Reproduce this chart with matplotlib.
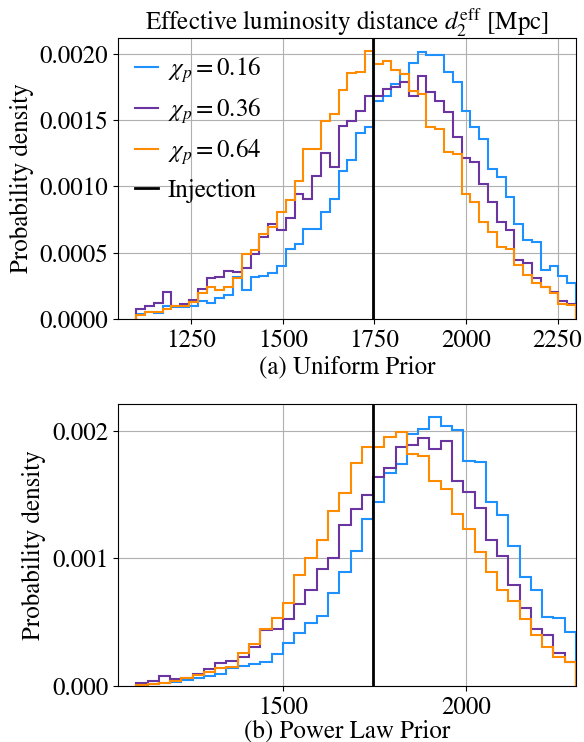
import matplotlib
matplotlib.use("Agg")
import matplotlib.pyplot as plt
import numpy as np

plt.rcParams['font.family'] = 'STIXGeneral'
plt.rcParams['mathtext.fontset'] = 'stix'
plt.rcParams['font.size'] = 18

# bin ranges of the two histograms (Mpc)
d_min, d_max = 1100, 2300
n_bins_uniform = 50
n_bins_power = 39
injection = 1747

labels = [r'$\chi_p = 0.16$', r'$\chi_p = 0.36$', r'$\chi_p = 0.64$']
colors = ['#1e90ff', '#6a35a0', '#ff8c00']

# (a) uniform prior, densities in units of 1e-4 / Mpc
uniform_016 = [0.38, 0.55, 0.43, 0.98, 0.88, 0.93, 0.98, 1.38, 1.23, 1.55,
               1.8, 3.18, 2.18, 3.18, 3.23, 3.48, 3.98, 5.31, 5.69, 6.77,
               6.77, 8.07, 9.07, 11.15, 12.0, 14.0, 14.5, 16.47, 16.84, 17.72,
               18.47, 19.3, 20.1, 19.92, 19.92, 18.6, 17.84, 15.71, 14.46, 13.58,
               11.33, 10.7, 9.2, 7.19, 5.94, 5.81, 3.73, 3.98, 3.23, 2.68]
uniform_036 = [0.73, 0.98, 1.18, 2.05, 0.98, 1.15, 1.4, 2.23, 3.06, 3.13,
               3.63, 3.56, 3.81, 4.89, 6.19, 7.14, 6.69, 7.62, 9.45, 9.07,
               10.78, 12.5, 11.45, 14.59, 14.96, 15.71, 16.84, 16.84, 17.34, 17.52,
               17.84, 16.84, 18.35, 17.09, 16.47, 15.59, 13.71, 12.16, 11.83, 10.2,
               8.82, 7.32, 6.69, 4.44, 4.19, 3.06, 2.43, 2.06, 1.38, 1.13]
uniform_064 = [0.3, 0.55, 0.5, 0.75, 0.95, 0.98, 1.3, 1.93, 2.43, 2.18,
               2.43, 3.06, 4.89, 5.19, 6.44, 6.94, 8.07, 9.0, 10.4, 12.83,
               12.83, 14.96, 15.46, 17.27, 18.52, 18.6, 20.18, 19.23, 19.47, 18.77,
               18.47, 17.22, 16.97, 14.46, 14.34, 12.58, 12.46, 9.45, 8.82, 7.32,
               6.57, 5.44, 5.31, 4.06, 3.31, 2.68, 2.43, 1.93, 1.13, 1.05]

# (b) power law prior, densities in units of 1e-4 / Mpc
power_016 = [0.1, 0.15, 0.25, 0.35, 0.45, 0.6, 0.75, 0.95, 1.4, 1.6,
             1.75, 1.9, 2.5, 3.33, 4.17, 4.9, 5.47, 7.29, 8.93, 10.57,
             13.05, 14.45, 16.67, 17.4, 19.74, 20.13, 21.04, 20.39, 20.05, 17.6,
             17.53, 14.45, 13.36, 10.96, 8.54, 7.5, 5.42, 5.29, 4.24]
power_036 = [0.26, 0.42, 0.81, 0.55, 0.65, 0.94, 1.35, 1.77, 1.95, 2.29,
             3.07, 4.38, 4.43, 5.21, 6.41, 7.55, 9.19, 10.05, 12.58, 13.88,
             14.97, 16.41, 17.08, 18.75, 18.91, 19.43, 18.57, 19.17, 16.09, 15.23,
             13.96, 11.41, 10.16, 7.89, 6.12, 4.43, 3.98, 2.55, 1.9]
power_064 = [0.1, 0.15, 0.26, 0.42, 0.6, 0.83, 1.12, 1.38, 1.45, 2.55,
             3.26, 4.43, 5.29, 6.51, 8.67, 10.05, 11.41, 13.7, 15.1, 17.45,
             18.7, 18.7, 19.53, 19.87, 18.18, 18.05, 16.09, 15.44, 13.49, 12.27,
             10.49, 8.93, 7.55, 6.64, 5.21, 3.98, 3.02, 2.24, 1.9]

fig = plt.figure(figsize=(5.84, 7.42), dpi=100)
ax1 = fig.add_axes([0.202, 0.5701, 0.7843, 0.3787])
ax2 = fig.add_axes([0.202, 0.0755, 0.7843, 0.38])

edges1 = np.linspace(d_min, d_max, n_bins_uniform + 1)
edges2 = np.linspace(d_min, d_max, n_bins_power + 1)

for vals, c, lab in zip([uniform_016, uniform_036, uniform_064], colors, labels):
    ax1.stairs(np.array(vals) * 1e-4, edges1, color=c, lw=1.5, label=lab)
for vals, c in zip([power_016, power_036, power_064], colors):
    ax2.stairs(np.array(vals) * 1e-4, edges2, color=c, lw=1.5)

for ax in (ax1, ax2):
    ax.axvline(injection, color='k', lw=2, label='Injection')
    ax.set_xlim(1050, 2300)
    ax.grid(True, color='#b0b0b0', lw=0.8)
    ax.set_axisbelow(True)
    ax.set_ylabel('Probability density')

ax1.set_xticks([1250, 1500, 1750, 2000, 2250])
ax1.set_yticks([0, 0.0005, 0.0010, 0.0015, 0.0020])
ax1.yaxis.set_major_formatter(matplotlib.ticker.FormatStrFormatter('%.4f'))
ax1.set_title(r'Effective luminosity distance $d_2^{\rm eff}$ [Mpc]', fontsize=18, pad=4)
ax1.set_xlabel('(a) Uniform Prior', labelpad=2)

ax2.set_xticks([1500, 2000])
ax2.set_yticks([0, 0.001, 0.002])
ax2.yaxis.set_major_formatter(matplotlib.ticker.FormatStrFormatter('%.3f'))
ax2.set_xlabel('(b) Power Law Prior', labelpad=0)

ax1.legend(loc='upper left', frameon=False, handlelength=0.9, handletextpad=0.4,
           labelspacing=0.45, borderaxespad=0.3, fontsize=18)

fig.savefig('out.png', dpi=100)
